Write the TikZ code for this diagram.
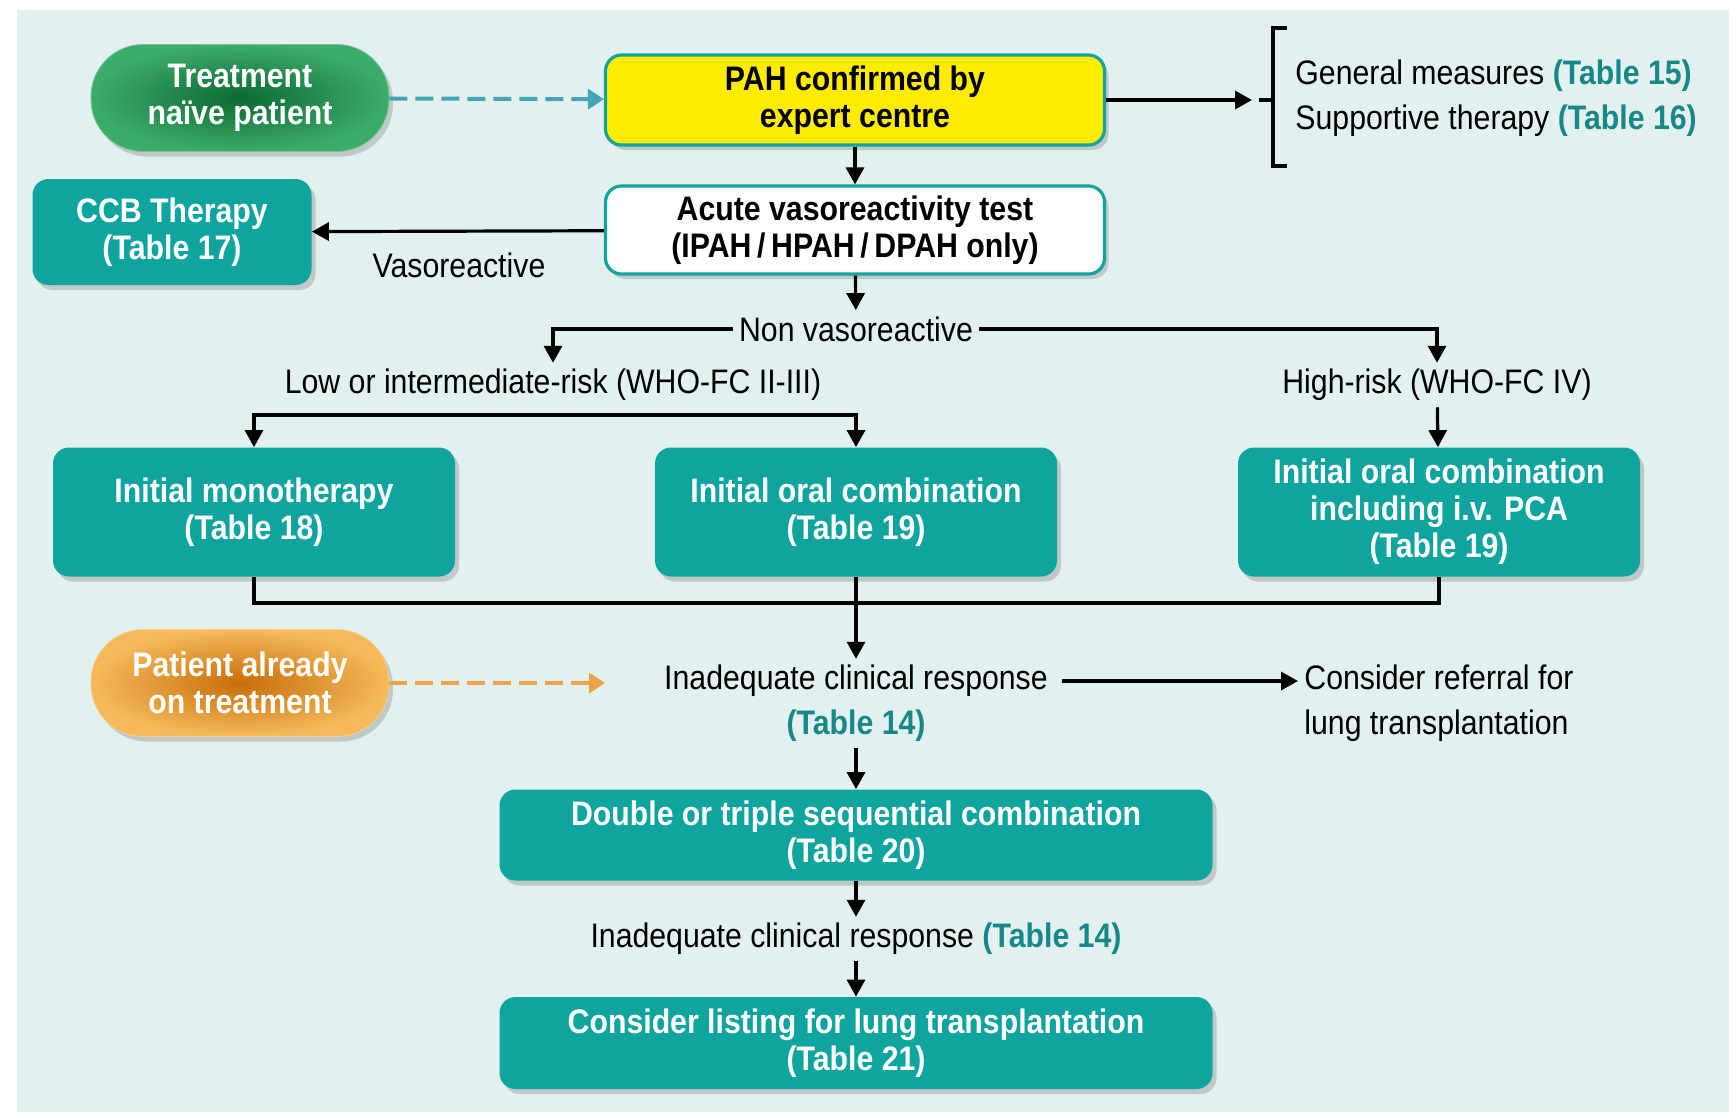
\documentclass[tikz,border=0pt]{standalone}
\usepackage{fontspec}
\setmainfont{Liberation Sans}[FakeStretch=0.89]
\usetikzlibrary{arrows.meta,shadows}
\newcommand\tbl[1]{\textcolor{tabteal}{\bfseries(Table #1)}}

\begin{document}
\begin{tikzpicture}
[x=0.5pt,y=-0.5pt,line cap=butt,
% Styles
box/.style={rounded corners=8pt,inner sep=2pt,align=center,
  font=\fontsize{17}{18.5}\selectfont\bfseries,
  drop shadow={shadow xshift=2pt,shadow yshift=-2.5pt,opacity=0.35}},
tealbox/.style={box,fill=boxteal,text=white,minimum width=201pt,minimum height=64.5pt},
widebox/.style={box,fill=boxteal,text=white,minimum width=356.5pt,minimum height=45.5pt},
framebox/.style={box,draw=boxteal,line width=1.6pt,minimum width=249.5pt,minimum height=44pt},
pill/.style={box,rounded corners=26pt,text=white,minimum width=149pt,minimum height=53.5pt},
plain/.style={font=\fontsize{17}{22.5}\selectfont,inner sep=3pt},
link/.style={line width=1.6pt,-{Triangle[length=8.5pt,width=9pt]}},
dashlink/.style={line width=2pt,dash pattern=on 9pt off 4pt,-{Triangle[length=8pt,width=10pt]}}]
% Colors
\colorlet{panel}{rgb,255:red,227;green,240;blue,240}
\definecolor{boxteal}{RGB}{16,164,159}
\definecolor{tabteal}{RGB}{24,135,135}
\definecolor{dashteal}{RGB}{70,165,180}
\definecolor{dashorange}{RGB}{235,165,70}
\definecolor{pahyellow}{RGB}{255,236,0}
\definecolor{naivedark}{RGB}{12,105,52}
\definecolor{naivelight}{RGB}{60,172,105}
\definecolor{treatdark}{RGB}{200,110,10}
\definecolor{treatlight}{RGB}{245,185,90}

% Background
\fill[white] (0,0) rectangle (1733,1116);
\fill[panel] (17,10) rectangle (1729,1112);

% Boxes
\node[pill,inner color=naivedark,outer color=naivelight,draw=naivelight!70!white] (naive) at (240,98) {Treatment\\naïve patient};
\node[framebox,fill=pahyellow,minimum height=45pt] (pah) at (855,100) {PAH confirmed by\\expert centre};
\node[framebox,fill=white] (avt) at (855,230) {Acute vasoreactivity test\\(IPAH\,/\,HPAH\,/\,DPAH only)};
\node[box,fill=boxteal,text=white,minimum width=139.5pt,minimum height=53pt] (ccb) at (172,232) {CCB Therapy\\(Table 17)};
\node[tealbox] (mono) at (254,512) {Initial monotherapy\\(Table 18)};
\node[tealbox] (oral) at (856,512) {Initial oral combination\\(Table 19)};
\node[tealbox] (iv) at (1439,512) {Initial oral combination\\including i.v. PCA\\(Table 19)};
\node[pill,inner color=treatdark,outer color=treatlight,draw=treatlight!70!white] (treated) at (240,683) {Patient already\\on treatment};
\node[widebox] (seq) at (856,835) {Double or triple sequential combination\\(Table 20)};
\node[widebox,minimum height=46pt] (listing) at (856,1043) {Consider listing for lung transplantation\\(Table 21)};

% Labels
\node[plain] (vaso) at (459,265) {Vasoreactive};
\node[plain] (nonvaso) at (856,329) {Non vasoreactive};
\node[plain] (lowrisk) at (553,385) {Low or intermediate-risk (WHO-FC II-III)};
\node[plain] (highrisk) at (1437,385) {High-risk (WHO-FC IV)};
\node[plain] (inadeqA) at (856,681) {Inadequate clinical response};
\node[plain] (inadeqB) at (856,726) {\tbl{14}};
\node[plain,anchor=west,align=left] (referral) at (1298,703) {Consider referral for\\lung transplantation};
\node[plain,anchor=west,align=left] (general) at (1289,98) {General measures \tbl{15}\\Supportive therapy \tbl{16}};
\node[plain] (inadeq2) at (856,939) {Inadequate clinical response \tbl{14}};

% Bracket
\coordinate (brk) at (1252,100);
\draw[line width=1.6pt] (1287,28) -- (1273,28) -- (1273,166) -- (1287,166);
\draw[line width=1.6pt] (1259,100) -- (1273,100);

% Connectors
\coordinate (treatin) at (605,683);
\coordinate (lowsplit) at (553,415);
\coordinate (join) at (856,603);
\draw[dashlink,dashteal] (naive) -- (pah);
\draw[link] (pah) -- (brk);
\draw[link] (pah) -- (avt);
\draw[link] (avt) -- (ccb);
\draw[link] (avt) -- (nonvaso);
\draw[link] (nonvaso.west) -| (lowrisk.north);
\draw[link] (nonvaso.east) -| (highrisk.north);
\draw[link] (lowsplit) -| (mono.north);
\draw[link] (lowsplit) -| (oral.north);
\draw[link] (highrisk) -- (iv);
\draw[line width=1.6pt] (mono.south) |- (join) -| (iv.south);
\draw[link] (oral.south) -- (inadeqA.north);
\draw[dashlink,dashorange] (treated) -- (treatin);
\draw[link] ([xshift=4pt]inadeqA.east) -- (inadeqA.east -| referral.west);
\draw[link] (inadeqB) -- (seq);
\draw[link] (seq) -- (inadeq2);
\draw[link] (inadeq2) -- (listing);
\end{tikzpicture}
\end{document}
